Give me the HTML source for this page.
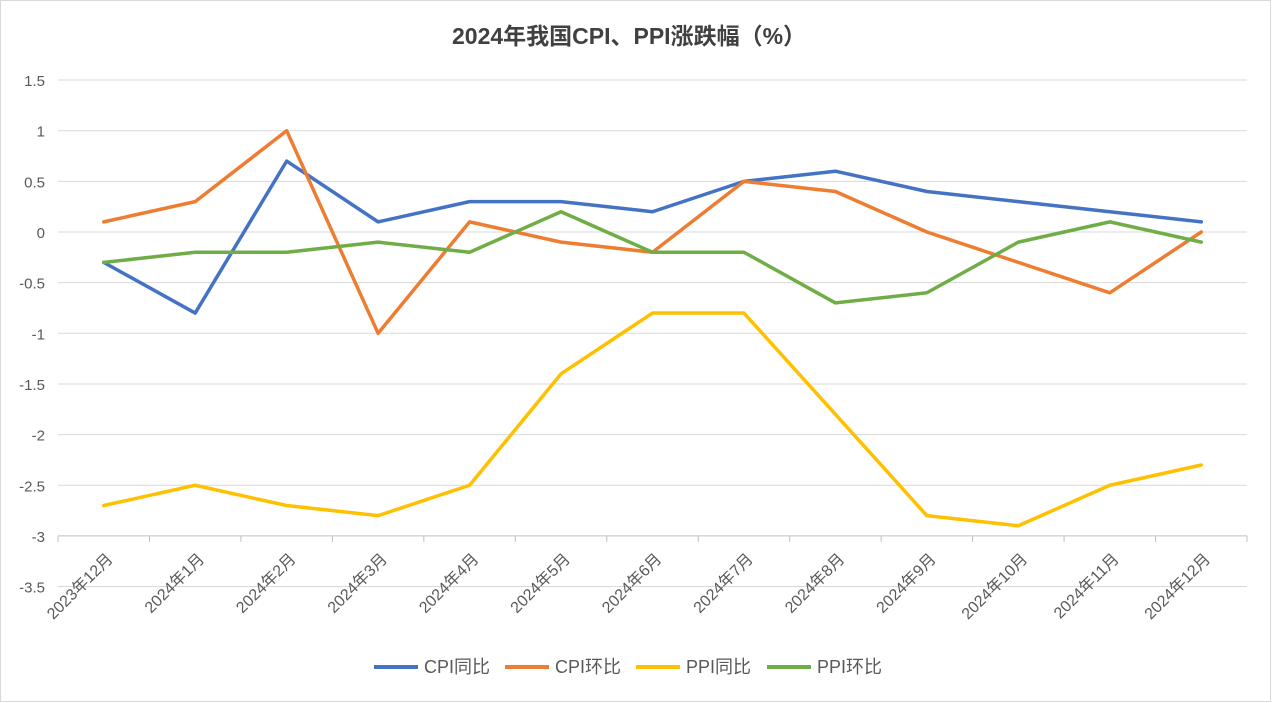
<!DOCTYPE html>
<html><head><meta charset="utf-8"><style>
body{margin:0;background:#fff;}
svg{display:block;font-family:"Liberation Sans","Noto Sans CJK SC",sans-serif;}
</style></head><body>
<svg id="chart" width="1272" height="703">
<rect x="0.5" y="0.5" width="1270" height="701" fill="#fff" stroke="#d9d9d9"/>
<text x="629" y="44" text-anchor="middle" font-size="23" font-weight="bold" fill="#404040">2024年我国CPI、PPI涨跌幅（%）</text>
<g id="grid"></g><g id="series"></g><g id="xlabels"></g><g id="legend"></g>
</svg>
<script>
const categories=["2023年12月","2024年1月","2024年2月","2024年3月","2024年4月","2024年5月","2024年6月","2024年7月","2024年8月","2024年9月","2024年10月","2024年11月","2024年12月"];
const cpiYoY=[-0.3,-0.8,0.7,0.1,0.3,0.3,0.2,0.5,0.6,0.4,0.3,0.2,0.1];
const cpiMoM=[0.1,0.3,1.0,-1.0,0.1,-0.1,-0.2,0.5,0.4,0,-0.3,-0.6,0];
const ppiYoY=[-2.7,-2.5,-2.7,-2.8,-2.5,-1.4,-0.8,-0.8,-1.8,-2.8,-2.9,-2.5,-2.3];
const ppiMoM=[-0.3,-0.2,-0.2,-0.1,-0.2,0.2,-0.2,-0.2,-0.7,-0.6,-0.1,0.1,-0.1];
const yTicks=[1.5,1,0.5,0,-0.5,-1,-1.5,-2,-2.5,-3,-3.5];
const seriesNames=["CPI同比","CPI环比","PPI同比","PPI环比"];
const colors=["#4472c4","#ed7d31","#ffc000","#70ad47"];
const NS="http://www.w3.org/2000/svg";
const L=58,R=1247,n=categories.length,step=(R-L)/n;
const xs=i=>L+step*(i+0.5);
const ys=v=>232-(v*101.3);
function mk(t,a,p){const e=document.createElementNS(NS,t);for(const k in a)e.setAttribute(k,a[k]);p.appendChild(e);return e;}
const grid=document.getElementById('grid');
yTicks.forEach(v=>{
  const l=mk('line',{x1:L,x2:R,y1:ys(v),y2:ys(v),stroke:v===-3?'#bfbfbf':'#d9d9d9','stroke-width':1},grid);
  
  
  const t=mk('text',{x:45,y:ys(v)+6,'text-anchor':'end','font-size':15,fill:'#595959'},grid);
  t.textContent=String(v);
  
  
});
for(let i=0;i<=n;i++){
  const tk=mk('line',{x1:L+step*i,x2:L+step*i,y1:ys(-3),y2:ys(-3)+6,stroke:'#bfbfbf'},grid);
  
  
}
const xl=document.getElementById('xlabels');
categories.forEach((c,i)=>{
  const x=xs(i)+10,y=ys(-3)+24;
  const t=mk('text',{x:x,y:y,'text-anchor':'end','font-size':16,fill:'#595959',transform:`rotate(-45 ${x} ${y})`},xl);
  t.textContent=c;
  
  
});
const sg=document.getElementById('series');
[cpiYoY,cpiMoM,ppiYoY,ppiMoM].forEach((d,k)=>{
  const p=mk('polyline',{points:d.map((v,i)=>xs(i)+','+ys(v)).join(' '),fill:'none',stroke:colors[k],'stroke-width':3.5,'stroke-linejoin':'round','stroke-linecap':'round'},sg);
  
  
});
const lg=document.getElementById('legend');
const lx=[374,505,636,767];
seriesNames.forEach((s,k)=>{
  const g=mk('g',{},lg);
  
  
  mk('line',{x1:lx[k],x2:lx[k]+44,y1:667,y2:667,stroke:colors[k],'stroke-width':4},g);
  const t=mk('text',{x:lx[k]+50,y:673,'font-size':18,fill:'#595959'},g);
  t.textContent=s;
});
</script>
</body></html>
